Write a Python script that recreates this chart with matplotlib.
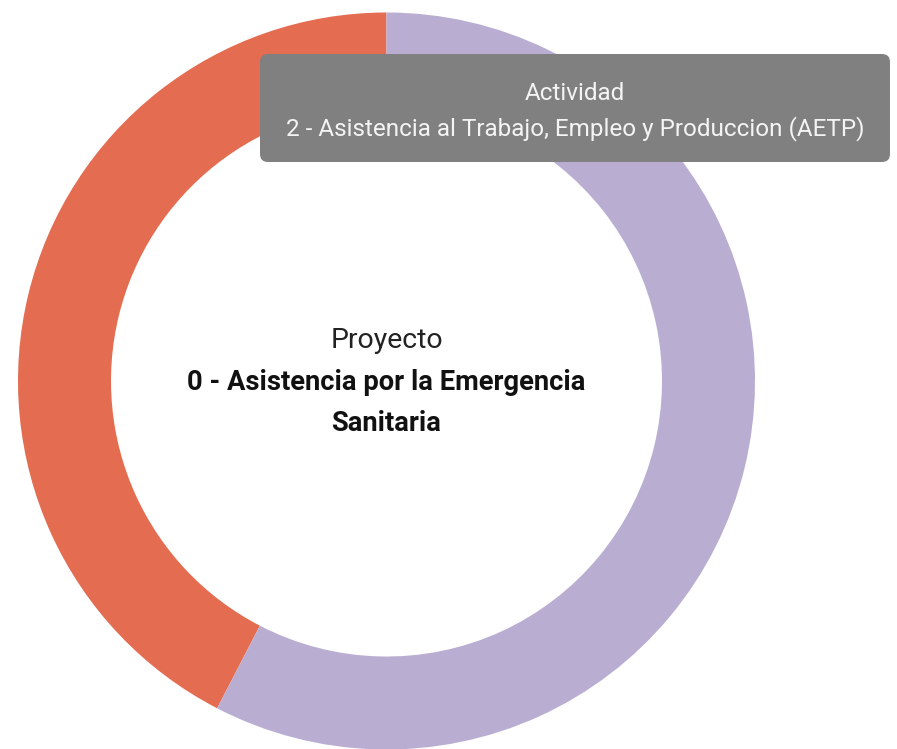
import matplotlib
matplotlib.use("Agg")
import matplotlib.pyplot as plt
from matplotlib.patches import FancyBboxPatch

plt.rcParams["font.family"] = ["Roboto", "DejaVu Sans"]

# data
labels = ["1 - Otra actividad", "2 - Asistencia al Trabajo, Empleo y Produccion (AETP)"]
values = [42.4, 57.6]
colors = ["#E36C51", "#B9AED2"]
center_title = "Proyecto"
center_name = "0 - Asistencia por la Emergencia\nSanitaria"
tip_title = "Actividad"
tip_text = labels[1]

W, H = 897, 749
fig = plt.figure(figsize=(W / 100, H / 100), dpi=100)
ax = fig.add_axes([0, 0, 1, 1])

cx, cy, R = 386.5, H - 381, 368.5
ax.pie(values, colors=colors, startangle=90, counterclock=True, center=(cx, cy), radius=R,
       wedgeprops=dict(width=93, edgecolor="none"), frame=True)
ax.set_xlim(0, W); ax.set_ylim(0, H); ax.set_aspect("equal"); ax.axis("off")

ax.text(cx, H - 341, center_title, ha="center", va="center", fontsize=20.5, color="#222222")
ax.text(cx, H - 403, center_name, ha="center", va="center", fontsize=19.7, fontweight="bold",
        color="#111111", linespacing=1.62)

# tooltip
box = FancyBboxPatch((260, H - 162), 630, 108, boxstyle="round,pad=0,rounding_size=8",
                     fc="#808080", ec="none", zorder=5)
ax.add_patch(box)
ax.text(575, H - 94, tip_title, ha="center", va="center", fontsize=17.5, color="#f4f4f4", zorder=6)
ax.text(575, H - 129, tip_text, ha="center", va="center", fontsize=17.5, color="#f4f4f4", zorder=6)

fig.savefig("out.png", dpi=100)
